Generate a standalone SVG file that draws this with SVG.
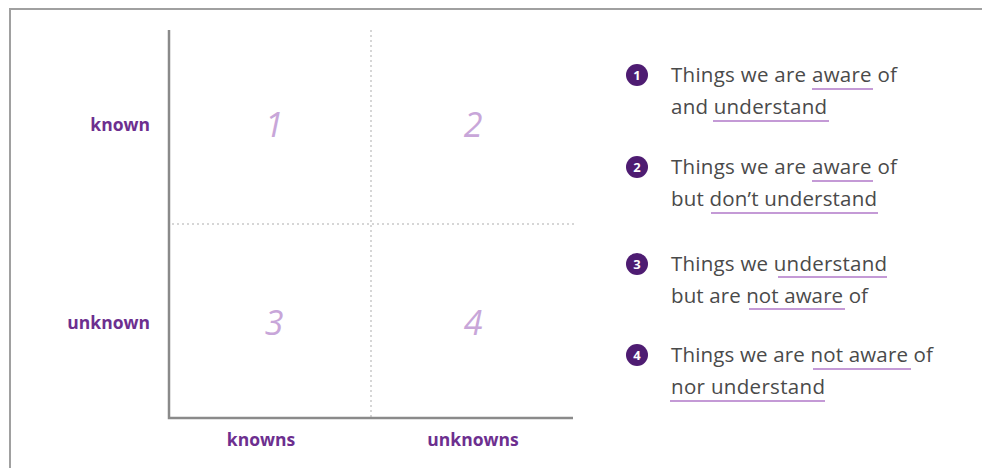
<svg xmlns="http://www.w3.org/2000/svg" width="982" height="468" viewBox="0 0 982 468">
  <style>
    .axis { stroke: #8a8a8a; stroke-width: 2.5; fill: none; }
    .grid { stroke: #d6d6d6; stroke-width: 2; stroke-dasharray: 2 3; fill: none; }
    .quad { font-family: "Open Sans", "DejaVu Sans", sans-serif; font-style: italic; font-size: 34px; fill: #c8a6d9; text-anchor: middle; }
    .lab { font-family: "Open Sans", "DejaVu Sans", sans-serif; font-weight: bold; font-size: 17.5px; fill: #6d2f8f; }
    .badge { fill: #4e1c72; }
    .bnum { font-family: "Open Sans", "DejaVu Sans", sans-serif; font-weight: bold; font-size: 13px; fill: #ffffff; text-anchor: middle; }
    .desc { font-family: "Open Sans", "DejaVu Sans", sans-serif; font-size: 20.5px; fill: #4a4a4a; }
    .ul { stroke: #c49ad6; stroke-width: 2; }
  </style>
  <rect x="0" y="0" width="982" height="468" fill="#ffffff"/>
  <path d="M10 468 V9 H982" stroke="#a0a0a0" stroke-width="2" fill="none"/>

  <g id="connectors">
    <line class="grid" x1="371" y1="30" x2="371" y2="417"/>
    <line class="grid" x1="172" y1="224" x2="576" y2="224"/>
    <path class="axis" d="M169 30 V418 H573"/>
  </g>

  <g id="axis-labels">
    <text class="lab" x="150" y="131" text-anchor="end">known</text>
    <text class="lab" x="150" y="329" text-anchor="end">unknown</text>
    <text class="lab" x="261" y="446" text-anchor="middle">knowns</text>
    <text class="lab" x="473" y="446" text-anchor="middle">unknowns</text>
  </g>

  <g id="quadrant-1"><text class="quad" x="274" y="137">1</text></g>
  <g id="quadrant-2"><text class="quad" x="473" y="137">2</text></g>
  <g id="quadrant-3"><text class="quad" x="274" y="335">3</text></g>
  <g id="quadrant-4"><text class="quad" x="473" y="335">4</text></g>

  <g id="item-1">
    <circle class="badge" cx="637" cy="75" r="11"/>
    <text class="bnum" x="637" y="79.5">1</text>
    <text class="desc" x="671" y="82" textLength="226">Things we are aware of</text>
    <text class="desc" x="671" y="114" textLength="156">and understand</text>
    <line class="ul" x1="812" y1="89" x2="873" y2="89"/>
    <line class="ul" x1="713" y1="121" x2="829" y2="121"/>
  </g>

  <g id="item-2">
    <circle class="badge" cx="637" cy="167" r="11"/>
    <text class="bnum" x="637" y="171.5">2</text>
    <text class="desc" x="671" y="174" textLength="226">Things we are aware of</text>
    <text class="desc" x="671" y="206" textLength="206">but don’t understand</text>
    <line class="ul" x1="812" y1="181" x2="873" y2="181"/>
    <line class="ul" x1="711" y1="213" x2="878" y2="213"/>
  </g>

  <g id="item-3">
    <circle class="badge" cx="637" cy="264" r="11"/>
    <text class="bnum" x="637" y="268.5">3</text>
    <text class="desc" x="671" y="271" textLength="216">Things we understand</text>
    <text class="desc" x="671" y="303" textLength="197">but are not aware of</text>
    <line class="ul" x1="778" y1="277" x2="887" y2="277"/>
    <line class="ul" x1="749" y1="309" x2="845" y2="309"/>
  </g>

  <g id="item-4">
    <circle class="badge" cx="637" cy="355" r="11"/>
    <text class="bnum" x="637" y="359.5">4</text>
    <text class="desc" x="671" y="362" textLength="262">Things we are not aware of</text>
    <text class="desc" x="671" y="394" textLength="154">nor understand</text>
    <line class="ul" x1="813" y1="369" x2="911" y2="369"/>
    <line class="ul" x1="670" y1="401" x2="825" y2="401"/>
  </g>
</svg>
